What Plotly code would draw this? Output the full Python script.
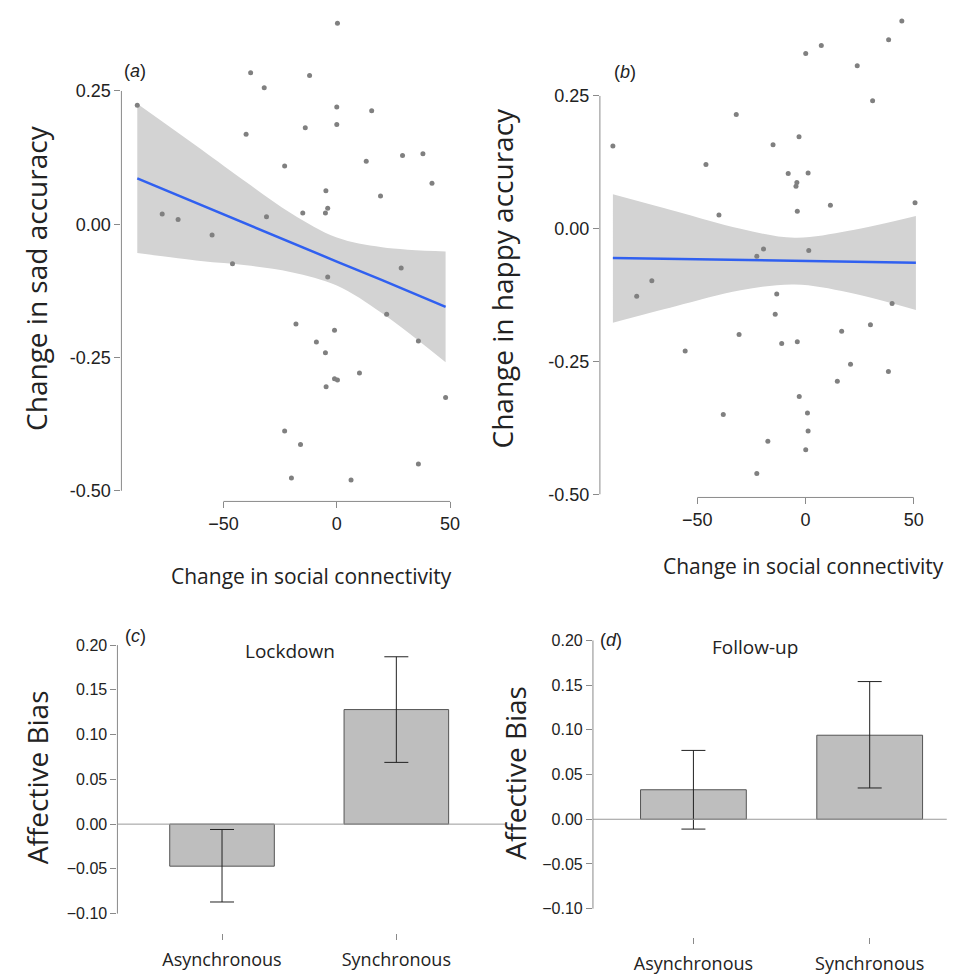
import plotly.graph_objects as go

# panel (a): change in social connectivity vs change in sad accuracy
sad_x = [0.3, -38, -12, -32, -88, 0, 15.4, 0, -13.9, -40, 29, 38, 13, -23, 42, -4.8, 19.3, -4, -5, -15,
         -77, -70, -31, -55, -46, 28.4, -4, 22, -18, -1, -9, 36, -5, 10, -1, 0.3, -4.7, 48, -23, -16, 36, -20, 6.3]
sad_y = [0.377, 0.284, 0.279, 0.256, 0.223, 0.220, 0.213, 0.187, 0.181, 0.169, 0.129, 0.132, 0.118, 0.109,
         0.077, 0.063, 0.053, 0.030, 0.021, 0.021, 0.019, 0.009, 0.014, -0.020, -0.074, -0.082, -0.099, -0.169,
         -0.187, -0.199, -0.221, -0.219, -0.241, -0.279, -0.290, -0.292, -0.305, -0.325, -0.388, -0.413, -0.450,
         -0.476, -0.480]
sad_fit_x = [-88, -60, -40, -20, 0, 20, 48]
sad_fit = [0.086, 0.036, 0.001, -0.035, -0.070, -0.105, -0.155]
sad_hi = [0.226, 0.141, 0.079, 0.020, -0.025, -0.043, -0.051]
sad_lo = [-0.054, -0.069, -0.077, -0.090, -0.115, -0.167, -0.259]

# panel (b): change in social connectivity vs change in happy accuracy
hap_x = [44.5, 38.4, 7.3, 0.1, 23.9, 31, -32, -3, -89, -15, -46, -8, 1.2, -4, -4.4, 50.6, 11.5, -3.8, -40,
         -19.4, -22.5, 1.5, -71, -78, -13.3, 40, -14, 30, -30.7, 16.7, -11, -3.8, -55.6, 20.8, 38.3, 14.7,
         -2.9, -38, 0.9, 1.2, -17.4, 0.1, -22.5]
hap_y = [0.391, 0.356, 0.345, 0.330, 0.307, 0.241, 0.215, 0.173, 0.156, 0.158, 0.121, 0.104, 0.105, 0.087,
         0.080, 0.049, 0.044, 0.033, 0.026, -0.038, -0.052, -0.041, -0.098, -0.127, -0.123, -0.141, -0.161,
         -0.181, -0.199, -0.193, -0.216, -0.213, -0.230, -0.255, -0.269, -0.287, -0.316, -0.350, -0.347,
         -0.381, -0.400, -0.416, -0.461]
hap_fit_x = [-89, -60, -30, -5, 20, 51]
hap_fit = [-0.055, -0.057, -0.059, -0.060, -0.062, -0.064]
hap_hi = [0.065, 0.033, 0.000, -0.017, -0.004, 0.024]
hap_lo = [-0.177, -0.146, -0.116, -0.105, -0.120, -0.153]

# panels (c) and (d): affective bias by group
groups = ["Asynchronous", "Synchronous"]
lock_bias = [-0.047, 0.128]
lock_lo = [-0.087, 0.069]
lock_hi = [-0.006, 0.187]
fu_bias = [0.033, 0.094]
fu_lo = [-0.011, 0.035]
fu_hi = [0.077, 0.154]

W, H = 960, 975
GREY = "#8a8a8a"
TICKFONT = dict(family="Liberation Sans Narrow, Liberation Sans, Arial", size=18, color="#222")
CATFONT = dict(family="Open Sans", size=18, color="#222")


def px(x0, x1):
    return [x0 / W, x1 / W]


def py(top, bottom):
    return [1 - bottom / H, 1 - top / H]


fig = go.Figure()


def scatter_panel(n, xs, ys, fx, fit, hi, lo):
    xa, ya = ("x" if n == 1 else f"x{n}"), ("y" if n == 1 else f"y{n}")
    fig.add_trace(go.Scatter(x=fx, y=lo, mode="lines", line=dict(width=0, shape="spline"),
                             xaxis=xa, yaxis=ya, hoverinfo="skip"))
    fig.add_trace(go.Scatter(x=fx, y=hi, mode="lines", fill="tonexty", fillcolor="#d3d3d3",
                             line=dict(width=0, shape="spline"), xaxis=xa, yaxis=ya, hoverinfo="skip"))
    fig.add_trace(go.Scatter(x=fx, y=fit, mode="lines", line=dict(color="#3060f0", width=2.5),
                             xaxis=xa, yaxis=ya))
    fig.add_trace(go.Scatter(x=xs, y=ys, mode="markers", marker=dict(color="#808080", size=5),
                             xaxis=xa, yaxis=ya))


def bar_panel(n, vals, lo, hi):
    xa, ya = f"x{n}", f"y{n}"
    fig.add_trace(go.Bar(x=[0, 1], y=vals, width=0.6, marker=dict(color="#bebebe", line=dict(color="#555", width=1)),
                         error_y=dict(type="data", symmetric=False,
                                      array=[h - v for h, v in zip(hi, vals)],
                                      arrayminus=[v - l for l, v in zip(lo, vals)],
                                      color="#222", thickness=1, width=12),
                         xaxis=xa, yaxis=ya))


scatter_panel(1, sad_x, sad_y, sad_fit_x, sad_fit, sad_hi, sad_lo)
scatter_panel(2, hap_x, hap_y, hap_fit_x, hap_fit, hap_hi, hap_lo)
bar_panel(3, lock_bias, lock_lo, lock_hi)
bar_panel(4, fu_bias, fu_lo, fu_hi)

common = dict(showgrid=False, zeroline=False, showline=False, ticks="outside", ticklen=6,
              tickcolor=GREY, tickfont=TICKFONT)
cat = {**common, "tickfont": CATFONT, "ticklabelstandoff": 4}

fig.update_layout(
    width=W, height=H, margin=dict(l=0, r=0, t=0, b=0), showlegend=False,
    plot_bgcolor="white", paper_bgcolor="white",
    xaxis=dict(domain=px(114, 449), range=[-95, 52], tickvals=[-50, 0, 50], anchor="y", **common),
    yaxis=dict(domain=py(3, 497), range=[-0.52, 0.40], tickvals=[0.25, 0, -0.25, -0.5],
               ticktext=["0.25", "0.00", "-0.25", "-0.50"], anchor="x", **common),
    xaxis2=dict(domain=px(595, 917), range=[-95, 53], tickvals=[-50, 0, 50], anchor="y2", **common),
    yaxis2=dict(domain=py(3, 493), range=[-0.506, 0.41], tickvals=[0.25, 0, -0.25, -0.5],
                ticktext=["0.25", "0.00", "-0.25", "-0.50"], anchor="x2", **common),
    xaxis3=dict(domain=px(110, 485), range=[-0.6, 1.54], tickvals=[0, 1], ticktext=groups, anchor="y3", **cat),
    yaxis3=dict(domain=py(612, 932), range=[-0.122, 0.233], tickvals=[0.2, 0.15, 0.1, 0.05, 0, -0.05, -0.1],
                tickformat=".2f", anchor="x3", **{**common, "tickfont": dict(TICKFONT, size=16)}),
    xaxis4=dict(domain=px(588, 930), range=[-0.57, 1.36], tickvals=[0, 1], ticktext=groups, anchor="y4", **cat),
    yaxis4=dict(domain=py(610, 936), range=[-0.132, 0.23], tickvals=[0.2, 0.15, 0.1, 0.05, 0, -0.05, -0.1],
                tickformat=".2f", anchor="x4", **{**common, "tickfont": dict(TICKFONT, size=16)}),
)

line = dict(color=GREY, width=1)
shapes = []
for n in ["", "2"]:
    shapes.append(dict(type="line", xref=f"x{n} domain", x0=0, x1=0, yref=f"y{n}", y0=-0.5, y1=0.25, line=line))
    shapes.append(dict(type="line", xref=f"x{n}", x0=-50, x1=50, yref=f"y{n} domain", y0=0, y1=0, line=line))
for n in ["3", "4"]:
    shapes.append(dict(type="line", xref=f"x{n} domain", x0=0, x1=0, yref=f"y{n}", y0=-0.1, y1=0.2, line=line))
    shapes.append(dict(type="line", xref=f"x{n} domain", x0=0, x1=1.04, yref=f"y{n}", y0=0, y1=0,
                       line=dict(color="#999", width=1)))
fig.update_layout(shapes=shapes)

title_font = dict(family="Open Sans", size=28, color="#222")
sub_font = dict(family="Open Sans", size=21, color="#222")
lab_font = dict(family="Liberation Sans", size=18, color="#222")
ann = [
    dict(x=28 / W, y=1 - 272 / H, text="Change in sad accuracy", textangle=-90, font=title_font),
    dict(x=497 / W, y=1 - 272 / H, text="Change in happy accuracy", textangle=-90, font=title_font),
    dict(x=30 / W, y=1 - 775 / H, text="Affective Bias", textangle=-90, font=title_font),
    dict(x=510 / W, y=1 - 770 / H, text="Affective Bias", textangle=-90, font=title_font),
    dict(x=305 / W, y=1 - 572 / H, text="Change in social connectivity", font=sub_font),
    dict(x=800 / W, y=1 - 562 / H, text="Change in social connectivity", font=sub_font),
    dict(x=283 / W, y=1 - 648 / H, text="Lockdown", font=dict(family="Open Sans", size=19, color="#222")),
    dict(x=751 / W, y=1 - 644 / H, text="Follow-up", font=dict(family="Open Sans", size=19, color="#222")),
    dict(x=128 / W, y=1 - 63 / H, text="(<i>a</i>)", font=lab_font),
    dict(x=620 / W, y=1 - 64 / H, text="(<i>b</i>)", font=lab_font),
    dict(x=128 / W, y=1 - 633 / H, text="(<i>c</i>)", font=lab_font),
    dict(x=606 / W, y=1 - 637 / H, text="(<i>d</i>)", font=lab_font),
]
for a in ann:
    a.update(xref="paper", yref="paper", showarrow=False, xanchor="center", yanchor="middle")
fig.update_layout(annotations=ann)

fig.write_html("out.html")
